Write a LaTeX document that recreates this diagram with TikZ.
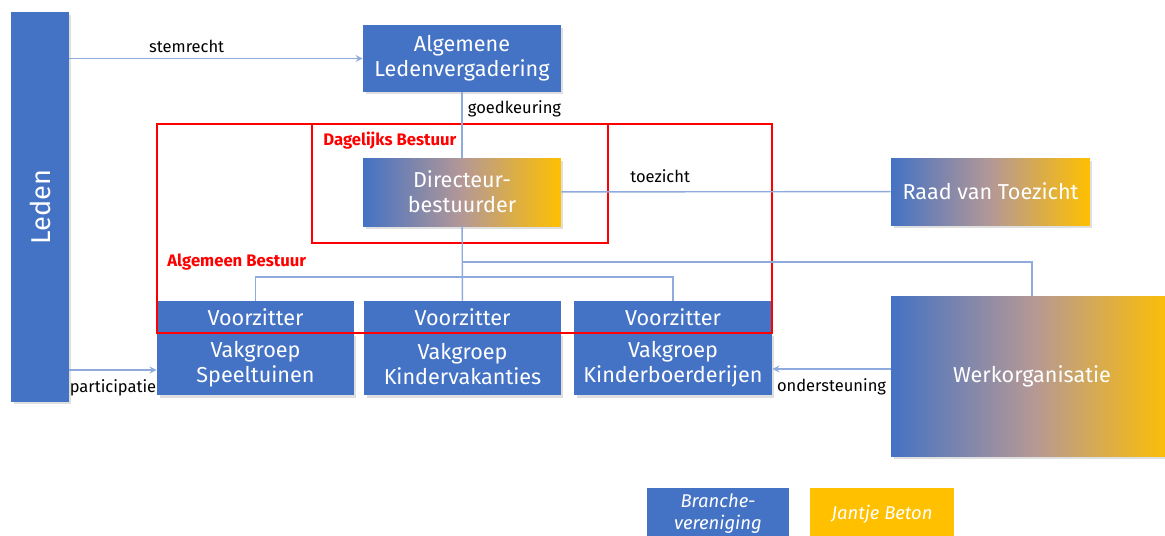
\documentclass[tikz,border=0pt]{standalone}
\usepackage{fontspec}
\setmainfont{Fira Sans}
\usetikzlibrary{calc}
\usetikzlibrary{shadows}
\definecolor{orgblue}{RGB}{68,114,196}
\definecolor{orgyellow}{RGB}{255,192,0}
\definecolor{orgmauve}{RGB}{180,152,150}
\definecolor{linkblue}{RGB}{143,170,220}

\begin{document}
\begin{tikzpicture}[x=0.02cm, y=-0.02cm, >=stealth,
unit/.style={fill=orgblue, text=white, inner sep=0, align=center, font=\fontsize{12.3}{14.2}\selectfont},
mixed/.style={unit, left color=orgblue, right color=orgyellow, middle color=orgmauve},
shade/.style={drop shadow={opacity=.25, shadow xshift=.5mm, shadow yshift=-.5mm}},
link/.style={draw=linkblue, line width=.8pt},
tag/.style={font=\fontsize{9.4}{11}\selectfont, text=black, inner sep=1pt},
board/.style={draw=red, line width=1.1pt},
boardname/.style={font=\bfseries\fontsize{9.5}{11}\selectfont, text=red, inner sep=0}]
\useasboundingbox (0,0) rectangle (1165,535);
\node[unit, shade, minimum width=1.16cm, minimum height=7.8cm] (leden) at (40,207) {\rotatebox{90}{\fontsize{15.5}{18}\selectfont Leden}};
\node[unit, shade, minimum width=3.96cm, minimum height=1.34cm] (alv) at (462,58.5) {Algemene\\Ledenvergadering};
\node[mixed, shade, minimum width=3.96cm, minimum height=1.36cm] (dir) at (462,192) {Directeur-\\bestuurder};
\node[mixed, shade, minimum width=3.98cm, minimum height=1.34cm] (raad) at (990.5,191.5) {Raad van Toezicht};
\node[mixed, shade, minimum width=5.64cm, minimum height=3.22cm] (werk) at (1032,376.5) {Werkorganisatie};
\node[unit, minimum width=3.94cm, minimum height=.64cm] (voorz1) at (255.5,317) {Voorzitter};
\node[unit, shade, minimum width=3.94cm, minimum height=1.24cm] (vak1) at (255.5,364) {Vakgroep\\Speeltuinen};
\node[unit, minimum width=3.94cm, minimum height=.64cm] (voorz2) at (462.5,317) {Voorzitter};
\node[unit, shade, minimum width=3.94cm, minimum height=1.24cm] (vak2) at (462.5,364) {Vakgroep\\Kindervakanties};
\node[unit, minimum width=3.96cm, minimum height=.64cm] (voorz3) at (673,317) {Voorzitter};
\node[unit, shade, minimum width=3.96cm, minimum height=1.24cm] (vak3) at (673,364) {Vakgroep\\Kinderboerderijen};
\node[unit, font=\itshape\fontsize{10.5}{12.5}\selectfont, minimum width=2.84cm, minimum height=1.04cm] (branche) at (718,514) {Branche-\\vereniging};
\node[unit, fill=orgyellow, font=\itshape\fontsize{10.5}{12.5}\selectfont, minimum width=2.88cm, minimum height=1.04cm] (jantje) at (882,514) {Jantje Beton};
\draw[board] (157,124) rectangle (772,333);
\draw[board] (312,124) rectangle (608,243);
\node[boardname, anchor=west] (db) at (323,141) {Dagelijks Bestuur};
\node[boardname, anchor=west] (ab) at (167,262) {Algemeen Bestuur};
\coordinate (split) at (462,262);
\coordinate (fork) at (462,277);
\coordinate (help) at ($(vak3.east)+(0,5)$);
\draw[link,->] (leden.east |- alv.west) -- node[tag, pos=.4, above=2pt]{stemrecht} (alv.west);
\draw[link] (alv) -- node[tag, pos=.25, right=2pt]{goedkeuring} (dir);
\draw[link] (dir) -- node[tag, pos=.3, above=4pt]{toezicht} (raad);
\draw[link] (dir) -- (voorz2);
\draw[link] (split) -| (werk.north);
\draw[link] (voorz1.north) |- (fork) -| (voorz3.north);
\draw[link,->] ($(leden.east |- vak1.west)+(0,6)$) -- node[tag, below=4pt]{participatie} ($(vak1.west)+(0,6)$);
\draw[link,->] (werk.west |- help) -- node[tag, below=4pt]{ondersteuning} (help);
\end{tikzpicture}
\end{document}
